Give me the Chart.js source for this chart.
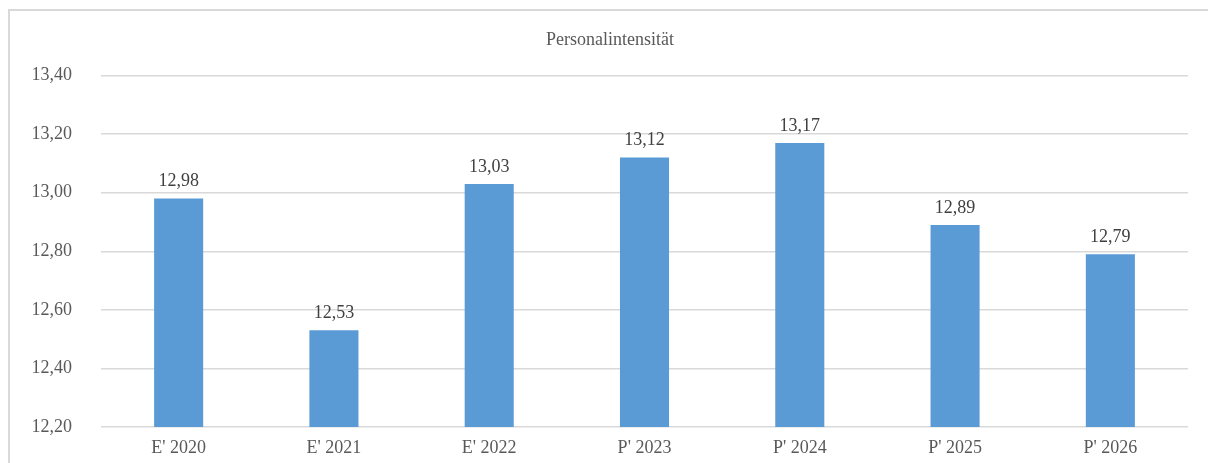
<!DOCTYPE html>
<html>
<head>
<meta charset="utf-8">
<script src="https://cdn.jsdelivr.net/npm/chart.js@4"></script>
<style>
  body { margin: 0; background: #fff; }
  #wrap { position: relative; width: 1208px; height: 463px; }
  #frame { position: absolute; left: 8px; top: 9px; right: 0; bottom: 0;
           border-left: 2px solid #d9d9d9; border-top: 2px solid #d9d9d9; }
  canvas { position: absolute; left: 0; top: 0; }
</style>
</head>
<body>
<div id="wrap">
  <div id="frame"></div>
  <canvas id="canvas" width="1208" height="463"></canvas>
</div>
<script>
const categories = ["E' 2020", "E' 2021", "E' 2022", "P' 2023", "P' 2024", "P' 2025", "P' 2026"];
const values = [12.98, 12.53, 13.03, 13.12, 13.17, 12.89, 12.79];
const yTicks = [12.20, 12.40, 12.60, 12.80, 13.00, 13.20, 13.40];

const fmt = v => v.toFixed(2).replace('.', ',');
const serif = "'Liberation Serif', 'Times New Roman', serif";

// draw the value above each bar
const valueLabels = {
    id: 'valueLabels',
    afterDatasetsDraw(chart) {
        const ctx = chart.ctx;
        const meta = chart.getDatasetMeta(0);
        ctx.save();
        ctx.font = '18px ' + serif;
        ctx.fillStyle = '#404040';
        ctx.textAlign = 'center';
        ctx.textBaseline = 'bottom';
        meta.data.forEach((bar, i) => {
            ctx.fillText(fmt(values[i]), bar.x, bar.y - 8);
        });
        ctx.restore();
    }
};

new Chart(document.getElementById('canvas'), {
    type: 'bar',
    data: {
        labels: categories,
        datasets: [{
            label: 'Personalintensität',
            data: values,
            backgroundColor: '#5b9bd5',
            categoryPercentage: 1,
            barPercentage: 0.316
        }]
    },
    options: {
        responsive: false,
        animation: false,
        layout: { padding: { top: 20, right: 20, left: 32, bottom: 0 } },
        plugins: {
            legend: { display: false },
            tooltip: { enabled: false },
            title: {
                display: true,
                text: 'Personalintensität',
                color: '#595959',
                font: { family: serif, size: 18, weight: 'normal' },
                padding: { top: 9, bottom: 25 }
            }
        },
        scales: {
            x: {
                grid: { display: false, drawTicks: false },
                border: { display: false },
                ticks: { color: '#595959', font: { family: serif, size: 18 }, padding: 10 },
                afterFit: s => { s.height = 36; }
            },
            y: {
                min: 12.2,
                max: 13.4,
                afterBuildTicks: s => { s.ticks = yTicks.map(v => ({ value: v })); },
                grid: { color: '#d9d9d9', lineWidth: 1.5, drawTicks: false },
                border: { display: false },
                ticks: { color: '#595959', font: { family: serif, size: 18 }, padding: 29,
                         callback: v => fmt(v) },
                afterFit: s => { s.width = 69; s.paddingTop = 10; s.paddingBottom = 10; }
            }
        }
    },
    plugins: [valueLabels]
});
</script>
</body>
</html>
